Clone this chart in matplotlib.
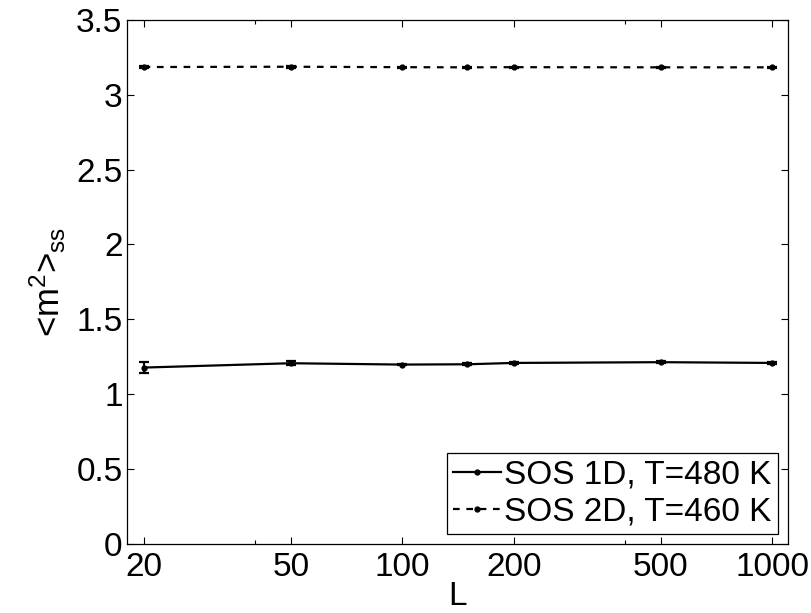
import matplotlib
matplotlib.use("Agg")
import matplotlib.pyplot as plt
from matplotlib.lines import Line2D
from matplotlib.ticker import FixedLocator, NullFormatter

plt.rcParams['font.family'] = ['Liberation Sans', 'DejaVu Sans']
plt.rcParams['mathtext.fontset'] = 'custom'
plt.rcParams['mathtext.rm'] = 'Liberation Sans'
plt.rcParams['mathtext.it'] = 'Liberation Sans'

# System sizes
L = [20, 50, 100, 150, 200, 500, 1000]

# Steady-state <m^2> for the 1D SOS model, T=480 K
m2_1d = [1.178, 1.207, 1.198, 1.200, 1.209, 1.214, 1.209]
err_1d = [0.035, 0.012, 0.006, 0.006, 0.006, 0.006, 0.005]

# Steady-state <m^2> for the 2D SOS model, T=460 K
m2_2d = [3.185, 3.187, 3.184, 3.183, 3.184, 3.183, 3.183]
err_2d = [0.006, 0.008, 0.004, 0.004, 0.004, 0.004, 0.004]

labels = ['SOS 1D, T=480 K', 'SOS 2D, T=460 K']
xticks = [20, 50, 100, 200, 500, 1000]
xtick_labels = ['20', '50', '100', '200', '500', '1000']
xminor = [40, 400]
yticks = [0, 0.5, 1, 1.5, 2, 2.5, 3, 3.5]
ytick_labels = ['0', '0.5', '1', '1.5', '2', '2.5', '3', '3.5']

FS = 24
dashed = (0, (3.0, 3.0))

fig = plt.figure(figsize=(8.12, 6.13), dpi=100)
ax = fig.add_axes([0.156, 0.1126, 0.814, 0.855])

common = dict(color='black', linewidth=1.6, marker='o', markersize=3.5,
              capsize=3.5, elinewidth=1.6, capthick=1.6)
ax.errorbar(L, m2_1d, yerr=err_1d, linestyle='-', **common)
ax.errorbar(L, m2_2d, yerr=err_2d, linestyle=dashed, **common)

ax.set_xscale('log')
ax.set_xlim(18, 1100)
ax.set_ylim(0, 3.5)
ax.xaxis.set_major_locator(FixedLocator(xticks))
ax.set_xticklabels(xtick_labels)
ax.xaxis.set_minor_locator(FixedLocator(xminor))
ax.xaxis.set_minor_formatter(NullFormatter())
ax.set_yticks(yticks)
ax.set_yticklabels(ytick_labels)

ax.tick_params(which='both', direction='in', top=True, right=True,
               labelsize=FS, width=0.8)
ax.tick_params(which='major', length=5)
ax.tick_params(axis='x', which='major', pad=6)
ax.tick_params(axis='y', which='major', pad=3)
ax.tick_params(which='minor', length=3)
for s in ax.spines.values():
    s.set_linewidth(0.9)

ax.set_xlabel('L', fontsize=FS, labelpad=-2)
ax.set_ylabel(r'<m$^{\mathregular{2}}$>$_{\mathregular{ss}}$', fontsize=FS + 1, labelpad=6)

handles = [
    Line2D([], [], color='black', linestyle='-', linewidth=1.6, marker='o', markersize=3.5),
    Line2D([], [], color='black', linestyle=dashed, linewidth=1.6, marker='o', markersize=3.5),
]
leg = ax.legend(handles, labels, loc='lower right', fontsize=FS, frameon=True,
                fancybox=False, edgecolor='black', framealpha=1, handlelength=1.45,
                handletextpad=0.1, borderpad=0.18, labelspacing=0.2,
                borderaxespad=0.3, numpoints=1)
leg.get_frame().set_linewidth(0.9)

fig.savefig('out.png', dpi=100)
